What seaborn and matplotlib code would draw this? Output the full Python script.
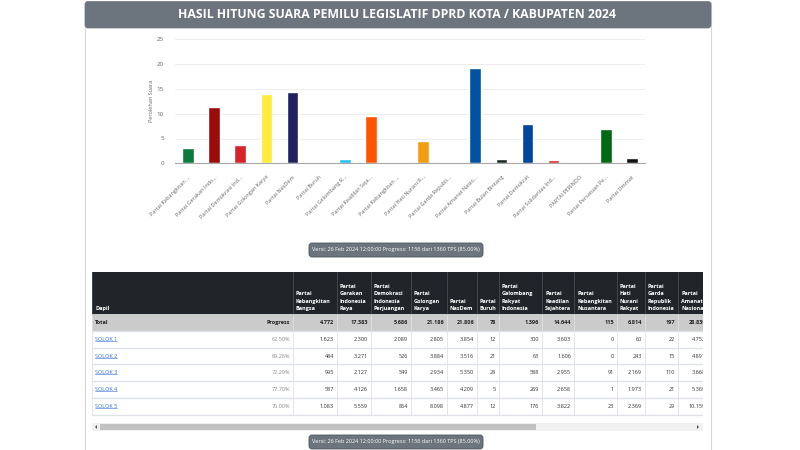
import matplotlib
matplotlib.use("Agg")
import matplotlib.pyplot as plt
from matplotlib.patches import Rectangle, FancyBboxPatch, Polygon
import seaborn as sns

# ---- chart data (percent of votes) ----
chart_codes = ["PKB", "GERINDRA", "PDIP", "GOLKAR", "NASDEM", "BURUH", "GELORA", "PKS", "PKN",
               "HANURA", "GARUDA", "PAN", "PBB", "DEMOKRAT", "PSI", "PERINDO", "PPP", "UMMAT"]
chart_labels = ["Partai Kebangkitan ...", "Partai Gerakan Indo...", "Partai Demokrasi Ind...",
                "Partai Golongan Karya", "Partai NasDem", "Partai Buruh", "Partai Gelombang R...",
                "Partai Keadilan Seja...", "Partai Kebangkitan ...", "Partai Hati Nurani R...",
                "Partai Garda Republi...", "Partai Amanat Nasio...", "Partai Bulan Bintang",
                "Partai Demokrat", "Partai Solidaritas Ind...", "PARTAI PERINDO",
                "Partai Persatuan Pe...", "Partai Ummat"]
chart_pct = [3.1, 11.4, 3.7, 14.0, 14.4, 0.05, 0.9, 9.6, 0.08, 4.4, 0.13, 19.2, 0.9, 7.9, 0.7, 0.0, 6.9, 1.1]
chart_colors = ["#0b7a3e", "#9b0b0b", "#d9232b", "#ffeb3b", "#232062", "#ff7f00", "#22c2f2",
                "#ff5500", "#c8102e", "#f39c12", "#b22222", "#0052a3", "#1d2b24", "#00469c",
                "#e8251f", "#1e2d7d", "#006a12", "#111111"]

# ---- table data ----
table_headers = ["Partai\nKebangkitan\nBangsa", "Partai\nGerakan\nIndonesia\nRaya",
                 "Partai\nDemokrasi\nIndonesia\nPerjuangan", "Partai\nGolongan\nKarya",
                 "Partai\nNasDem", "Partai\nBuruh", "Partai\nGelombang\nRakyat\nIndonesia",
                 "Partai\nKeadilan\nSejahtera", "Partai\nKebangkitan\nNusantara",
                 "Partai\nHati\nNurani\nRakyat", "Partai\nGarda\nRepublik\nIndonesia",
                 "Partai\nAmanat\nNasional"]
dapil = ["SOLOK 1", "SOLOK 2", "SOLOK 3", "SOLOK 4", "SOLOK 5"]
dapil_progress = ["62.50%", "69.26%", "72.29%", "77.70%", "76.00%"]
votes_solok1 = [1623, 2300, 2089, 2805, 3854, 12, 300, 3603, 0, 60, 22, 4752]
votes_solok2 = [484, 3271, 526, 3884, 3516, 21, 63, 1606, 0, 243, 15, 4891]
votes_solok3 = [995, 2127, 549, 2934, 5350, 28, 588, 2955, 91, 2169, 110, 3668]
votes_solok4 = [587, 4126, 1658, 3465, 4209, 5, 269, 2658, 1, 1973, 21, 5369]
votes_solok5 = [1083, 5559, 864, 8098, 4877, 12, 176, 3822, 23, 2369, 29, 10159]
dapil_votes = [votes_solok1, votes_solok2, votes_solok3, votes_solok4, votes_solok5]
version_text = "Versi: 26 Feb 2024 12:00:00 Progress: 1156 dari 1360 TPS (85.00%)"
title = "HASIL HITUNG SUARA PEMILU LEGISLATIF DPRD KOTA / KABUPATEN 2024"


def fmt(v):
    return f"{v:,}".replace(",", ".")


sns.set_theme(style="white")
plt.rcParams['font.family'] = ['Open Sans', 'DejaVu Sans']

W, H = 800, 450
fig = plt.figure(figsize=(8, 4.5), dpi=100)
fig.patch.set_facecolor("white")

# page layer in pixel coordinates
page = fig.add_axes([0, 0, 1, 1])
page.set_xlim(0, W)
page.set_ylim(H, 0)
page.axis('off')

# card + header
page.add_patch(Rectangle((85, 1.5), 626, 470, fc="white", ec="#d6d6d6", lw=0.8))
page.add_patch(FancyBboxPatch((85, 1.5), 626, 26.5, boxstyle="round,pad=0,rounding_size=3",
                              fc="#6c757d", ec="#6c757d", lw=0.5))
page.text(397, 14.5, title, color="white", fontsize=8.8, fontweight="bold", ha="center", va="center")


def badge(cy):
    page.add_patch(FancyBboxPatch((309, cy - 7), 174, 14, boxstyle="round,pad=0,rounding_size=3",
                                  fc="#6c757d", ec="#4f565c", lw=0.6))
    page.text(396, cy, version_text, color="white", fontsize=4, ha="center", va="center")


badge(250)
badge(442)

# ---- bar chart ----
def frac(x0, y0, x1, y1):
    return [x0 / W, 1 - y1 / H, (x1 - x0) / W, (y1 - y0) / H]


ax = fig.add_axes(frac(175, 39.3, 645, 163.3))
ax.patch.set_alpha(0)
sns.barplot(x=chart_codes, y=chart_pct, hue=chart_codes, palette=chart_colors, order=chart_codes,
            hue_order=chart_codes, legend=False, width=0.45, saturation=1, ax=ax)
ax.set_ylim(0, 25)
ax.set_yticks(range(0, 26, 5))
ax.set_xticks(range(len(chart_labels)))
ax.set_xticklabels(chart_labels, rotation=45, ha="right", rotation_mode="anchor", fontsize=4, color="#666666")
ax.tick_params(axis="x", length=0, pad=8)
ax.tick_params(axis="y", length=0, pad=8, labelsize=4.5, labelcolor="#666666")
ax.grid(axis="y", color="#ebebeb", lw=0.6)
ax.set_axisbelow(True)
for s in ["top", "right", "left"]:
    ax.spines[s].set_visible(False)
ax.spines["bottom"].set_color("#a8a8a8")
ax.spines["bottom"].set_linewidth(0.8)
ax.set_ylabel("Perolehan Suara", fontsize=4, color="#666666", labelpad=2)
ax.set_xlabel("")

# ---- table ----
col_edges = [92, 293, 337, 371, 411, 447, 477, 499, 542, 574, 617, 645, 678, 709]
head_top, head_bot, total_bot = 271.5, 314, 331
row_h = 16.7

page.add_patch(Rectangle((92, head_top), 650, head_bot - head_top, fc="#212529", ec="none"))
page.add_patch(Rectangle((92, head_bot), 650, total_bot - head_bot, fc="#cbcbcb", ec="none"))
for xe in col_edges:
    page.plot([xe, xe], [head_top, head_bot], color="#454d55", lw=0.6)
    page.plot([xe, xe], [head_bot, total_bot + row_h * len(dapil)], color="#dee2e6", lw=0.6)

page.text(95, 311, "Dapil", color="white", fontsize=4, fontweight="bold", ha="left", va="bottom")
for i, hdr in enumerate(table_headers):
    page.text(col_edges[i + 1] + 3, 311, hdr, color="white", fontsize=4, fontweight="bold",
              ha="left", va="bottom", linespacing=1.6)

ty = (head_bot + total_bot) / 2
page.text(95, ty, "Total", fontsize=4, fontweight="bold", color="#222222", va="center")
page.text(290, ty, "Progress", fontsize=4, fontweight="bold", color="#222222", va="center", ha="right")
for i in range(len(table_headers)):
    total = sum(r[i] for r in dapil_votes)
    page.text(col_edges[i + 2] - 3, ty, fmt(total), fontsize=4, fontweight="bold", color="#222222",
              va="center", ha="right")

links = []
for r, name in enumerate(dapil):
    y0 = total_bot + r * row_h
    cy = y0 + row_h / 2
    page.plot([92, 742], [y0, y0], color="#dee2e6", lw=1)
    links.append(page.text(95, cy, name, fontsize=4, color="#2f6fd6", va="center"))
    page.text(290, cy, dapil_progress[r], fontsize=4, color="#8a8a8a", va="center", ha="right")
    for i, v in enumerate(dapil_votes[r]):
        page.text(col_edges[i + 2] - 3, cy, fmt(v), fontsize=4, color="#333333", va="center", ha="right")
yb = total_bot + row_h * len(dapil)
page.plot([92, 742], [yb, yb], color="#dee2e6", lw=1)

# underline the dapil links
fig.canvas.draw()
rend = fig.canvas.get_renderer()
inv = page.transData.inverted()
for t in links:
    bb = t.get_window_extent(rend)
    (x0, y0), (x1, y1) = inv.transform([[bb.x0, bb.y0], [bb.x1, bb.y1]])
    page.plot([x0, x1], [max(y0, y1) - 0.8] * 2, color="#2f6fd6", lw=0.4)

# the table scrolls: hide what lies past its right edge
page.add_patch(Rectangle((703, 265), 100, 160, fc="white", ec="none", zorder=10))
page.plot([711, 711], [265, 425], color="#d6d6d6", lw=0.8, zorder=11)

# horizontal scrollbar
page.add_patch(Rectangle((92, 423), 611, 8, fc="#f1f1f1", ec="none"))
page.add_patch(Rectangle((100, 424), 436, 6, fc="#c1c1c1", ec="none"))
page.add_patch(Polygon([[97, 425], [97, 429], [95, 427]], closed=True, fc="#505050", ec="none"))
page.add_patch(Polygon([[697, 425], [697, 429], [699, 427]], closed=True, fc="#505050", ec="none"))

fig.savefig("out.png", dpi=100)
